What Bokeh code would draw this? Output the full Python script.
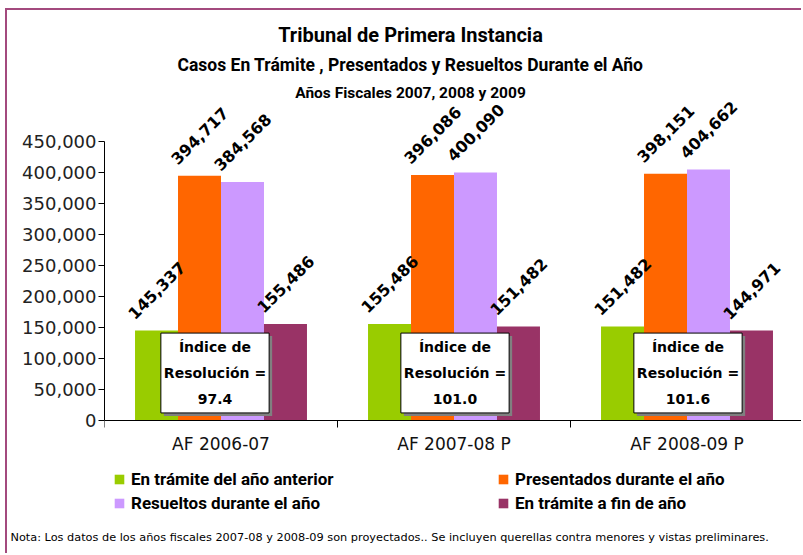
import math
from bokeh.plotting import figure
from bokeh.models import (ColumnDataSource, Range1d, FixedTicker,
                          NumeralTickFormatter, Label, Legend, LegendItem)
from bokeh.transform import dodge
from bokeh.core.properties import value
from bokeh.embed import file_html
from bokeh.resources import INLINE

# ---- data ----
categories = ["AF 2006-07", "AF 2007-08 P", "AF 2008-09 P"]
series_names = ["En trámite del año anterior", "Presentados durante el año",
                "Resueltos durante el año", "En trámite a fin de año"]
en_tramite_anterior = [145337, 155486, 151482]
presentados = [394717, 396086, 398151]
resueltos = [384568, 400090, 404662]
en_tramite_fin = [155486, 151482, 144971]
indice_resolucion = ["97.4", "101.0", "101.6"]
colors = ["#99CC00", "#FF6600", "#CC99FF", "#993366"]
y_ticks = list(range(0, 450001, 50000))

title1 = "Tribunal de Primera Instancia"
title2 = "Casos En Trámite , Presentados y Resueltos Durante el Año"
title3 = "Años Fiscales 2007, 2008 y 2009"
note = ("Nota: Los datos de los años fiscales 2007-08 y 2008-09 son proyectados..  "
        "Se incluyen querellas contra menores y vistas preliminares.")

series_values = [en_tramite_anterior, presentados, resueltos, en_tramite_fin]

FRAME_COLOR = "#A34A7E"
TITLE_FONT = "Roboto"
GOTHIC = "DejaVu Sans"

# layout (pixels): canvas starts at page (7, 10)
W, H = 796, 545
ML, MB = 97, 40
frame_w = W - ML
frame_h = H - MB
frame_bottom_page = 10 + frame_h
zero_page, top_tick_page = 420, 141
ppu = (zero_page - top_tick_page) / 450000.0
y_start = -(frame_bottom_page - zero_page) / ppu
y_end = (zero_page - 10) / ppu

p = figure(width=W, height=H, output_backend="svg", toolbar_location=None,
           x_range=Range1d(0, len(categories)), y_range=Range1d(y_start, y_end),
           min_border_left=ML, min_border_right=0, min_border_top=0, min_border_bottom=MB,
           background_fill_color="white", border_fill_color="white")
p.styles = {"margin-left": "5px", "margin-top": "8px",
            "border-left": f"2px solid {FRAME_COLOR}", "border-top": f"2px solid {FRAME_COLOR}"}
p.outline_line_color = None
p.xgrid.visible = False
p.ygrid.visible = False
p.extra_x_ranges = {"px": Range1d(0, frame_w)}
p.extra_y_ranges = {"px": Range1d(0, frame_h)}

# ---- axes ----
xc = [i + 0.5 for i in range(len(categories))]
xa = p.xaxis[0]
xa.fixed_location = 0
xa.ticker = FixedTicker(ticks=xc, minor_ticks=list(range(len(categories) + 1)))
xa.major_label_overrides = {x: c for x, c in zip(xc, categories)}
xa.major_tick_out = 0
xa.major_tick_in = 0
xa.minor_tick_out = 7
xa.minor_tick_in = 0
xa.minor_tick_line_color = "black"
xa.axis_line_color = "black"
xa.major_label_standoff = 6
xa.major_label_text_font = GOTHIC
xa.major_label_text_font_size = "17px"
xa.major_label_text_color = "#111111"

ya = p.yaxis[0]
ya.bounds = (0, 450000)
ya.ticker = FixedTicker(ticks=y_ticks)
ya.formatter = NumeralTickFormatter(format="0,0")
ya.major_tick_out = 6
ya.major_tick_in = 0
ya.minor_tick_line_color = None
ya.axis_line_color = "black"
ya.major_label_standoff = 2
ya.major_label_text_font = GOTHIC
ya.major_label_text_font_size = "18px"
ya.major_label_text_color = "#222222"

# ---- bars ----
bw = 0.1845
offsets = [-1.5 * bw, -0.5 * bw, 0.5 * bw, 1.5 * bw]
renderers = []
sources = []
for name, vals, col, off in zip(series_names, series_values, colors, offsets):
    src = ColumnDataSource(dict(xc=xc, val=vals, lbl=[f"{v:,}" for v in vals]))
    sources.append(src)
    r = p.vbar(x=dodge("xc", off, range=p.x_range), top="val", width=bw, bottom=0,
               source=src, fill_color=col, line_color=None)
    renderers.append(r)

# ---- value labels (drawn over all bars) ----
for src, off in zip(sources, offsets):
    p.text(x=dodge("xc", off, range=p.x_range), y="val", text="lbl", source=src,
           angle=math.pi / 4, text_align="center", text_baseline="middle",
           y_offset=-40, text_font=value(GOTHIC), text_font_style="bold",
           text_font_size="16px", text_color="black")

# ---- resolution index boxes ----
box_y = 76600
box_dx = [-6, 1, 1]
for xv, idx, dx in zip(xc, indice_resolucion, box_dx):
    txt = f"Índice de\nResolución =\n{idx}"
    common = dict(x=xv, y=box_y, text=txt, text_align="center", text_baseline="middle",
                  text_font=GOTHIC, text_font_style="bold", text_font_size="14px",
                  text_line_height=1.62, padding=dict(left=3, right=3, top=6, bottom=6))
    shadow = Label(x_offset=dx + 3, y_offset=-3, text_color="#808080",
                   background_fill_color="#808080", border_line_color=None, **common)
    box = Label(x_offset=dx, y_offset=0, text_color="black",
                background_fill_color="white", border_line_color="black",
                border_line_width=1, **common)
    p.add_layout(shadow)
    p.add_layout(box)

# ---- titles (screen units, relative to the frame's bottom-left) ----
cx = 410 - (ML + 7)
for txt, ypage, size in [(title1, 34, "20px"), (title2, 64, "17.5px"), (title3, 92, "15.5px")]:
    p.add_layout(Label(x=cx, y=frame_bottom_page - ypage, x_units="screen", y_units="screen",
                       text=txt, text_align="center", text_baseline="middle",
                       text_font=TITLE_FONT, text_font_style="bold", text_font_size=size,
                       text_color="black"))

# ---- legends ----
def make_legend(items, loc):
    return Legend(items=items, location=loc, orientation="vertical",
                  glyph_width=12, glyph_height=12, label_height=20, spacing=4,
                  padding=0, margin=0, border_line_color=None, background_fill_alpha=0,
                  label_standoff=6, label_text_font=TITLE_FONT, label_text_font_style="bold",
                  label_text_font_size="17px", label_text_color="black")

leg_y = frame_bottom_page - 513
leg1 = make_legend([LegendItem(label=series_names[0], renderers=[renderers[0]]),
                    LegendItem(label=series_names[2], renderers=[renderers[2]])], (113 - 104, leg_y))
leg2 = make_legend([LegendItem(label=series_names[1], renderers=[renderers[1]]),
                    LegendItem(label=series_names[3], renderers=[renderers[3]])], (497 - 104, leg_y))
p.add_layout(leg1)
p.add_layout(leg2)

# ---- note (below the frame, in pixel coordinates) ----
note_src = ColumnDataSource(dict(x=[10 - 104], y=[frame_bottom_page - 537], t=[note]))
nr = p.text(x="x", y="y", text="t", source=note_src, x_range_name="px", y_range_name="px",
            text_align="left", text_baseline="middle", text_font=value(GOTHIC),
            text_font_size="11.3px", text_color="black")
nr.level = "overlay"

open("out.html", "w").write(file_html(p, INLINE))
